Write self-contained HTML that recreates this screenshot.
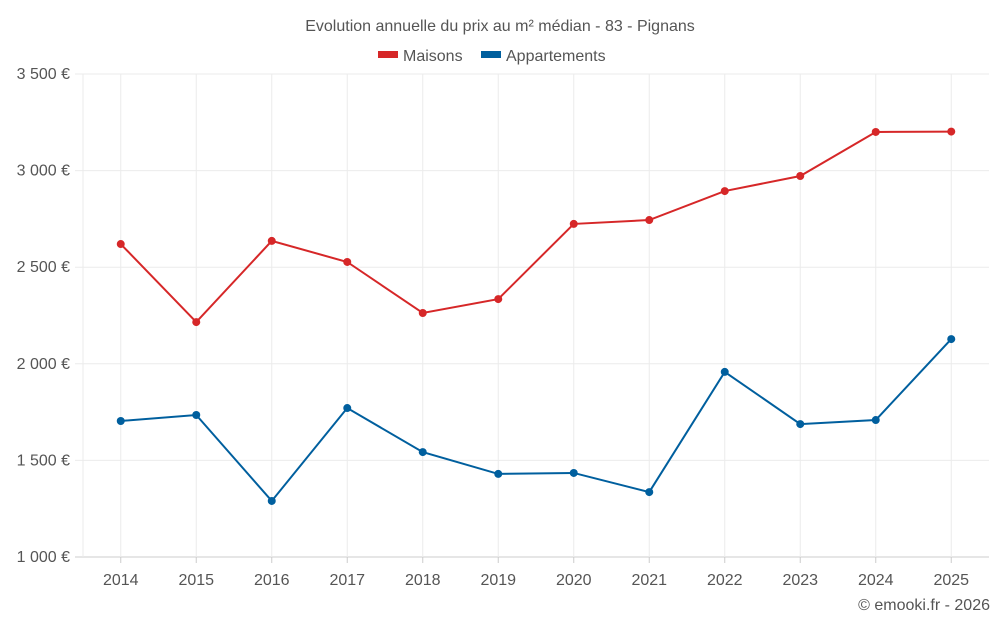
<!DOCTYPE html>
<html><head><meta charset="utf-8">
<style>
body{margin:0;background:#fff;font-family:"Liberation Sans",sans-serif;}
svg text{font-family:"Liberation Sans",sans-serif;}
</style></head>
<body>
<svg id="chart" width="1000" height="625" viewBox="0 0 1000 625">
<text x="500" y="31" text-anchor="middle" font-size="16" fill="#555">Evolution annuelle du prix au m² médian - 83 - Pignans</text>
<g>
<g><rect x="378" y="51" width="20" height="7" fill="#d62728"/><text x="403" y="61" font-size="16" fill="#555">Maisons</text></g>
<g><rect x="481" y="51" width="20" height="7" fill="#005f9e"/><text x="506" y="61" font-size="16" fill="#555">Appartements</text></g>
</g>
<g id="grid"></g><g id="axes"></g><g id="series"></g>
<text x="990" y="610" text-anchor="end" font-size="16" fill="#555">© emooki.fr - 2026</text>
</svg>
<script>
const years=["2014","2015","2016","2017","2018","2019","2020","2021","2022","2023","2024","2025"];
const maisons=[2620,2216,2636,2527,2263,2335,2724,2744,2894,2972,3200,3202];
const appartements=[1704,1735,1290,1771,1543,1430,1435,1336,1958,1688,1709,2128];
const yTicks=[1000,1500,2000,2500,3000,3500];
const yTickLabels=["1 000 €","1 500 €","2 000 €","2 500 €","3 000 €","3 500 €"];
const L=83,R=989,T=74,B=557,ymin=1000,ymax=3500;
const bw=(R-L)/years.length;
const x=i=>L+bw*(i+0.5);
const y=v=>B-(v-ymin)/(ymax-ymin)*(B-T);
const NS="http://www.w3.org/2000/svg";
function mk(tag,attrs,parent){const e=document.createElementNS(NS,tag);for(const k in attrs)e.setAttribute(k,attrs[k]);parent.appendChild(e);return e;}
const grid=document.getElementById('grid'),axes=document.getElementById('axes'),series=document.getElementById('series');
yTicks.forEach((t,i)=>{
 const l=mk('line',{x1:75,x2:R,y1:y(t),y2:y(t),stroke:i==0?'#ccc':'#ebebeb'},grid);
 
 
 const tx=mk('text',{x:70,y:y(t)+5,'text-anchor':'end','font-size':'16',fill:'#555'},axes);
 tx.textContent=yTickLabels[i];
 
 
});
const edge=mk('line',{x1:L,x2:L,y1:T,y2:B,stroke:'#ebebeb'},grid);


years.forEach((yr,i)=>{
 const g=mk('line',{x1:x(i),x2:x(i),y1:T,y2:B,stroke:'#ebebeb'},grid);
 
 
 const tk=mk('line',{x1:x(i),x2:x(i),y1:B,y2:B+6,stroke:'#ccc'},axes);
 
 
 const tx=mk('text',{x:x(i),y:585,'text-anchor':'middle','font-size':'16',fill:'#555'},axes);
 tx.textContent=yr;
 
 
});
function draw(vals,color,name){
 const p=mk('polyline',{points:vals.map((v,i)=>x(i)+','+y(v)).join(' '),fill:'none',stroke:color,'stroke-width':2},series);
 
 
 vals.forEach((v,i)=>{
  const c=mk('circle',{cx:x(i),cy:y(v),r:4,fill:color},series);
  
  
 });
}
draw(maisons,'#d62728','maisons');
draw(appartements,'#005f9e','appartements');
</script>
</body></html>
